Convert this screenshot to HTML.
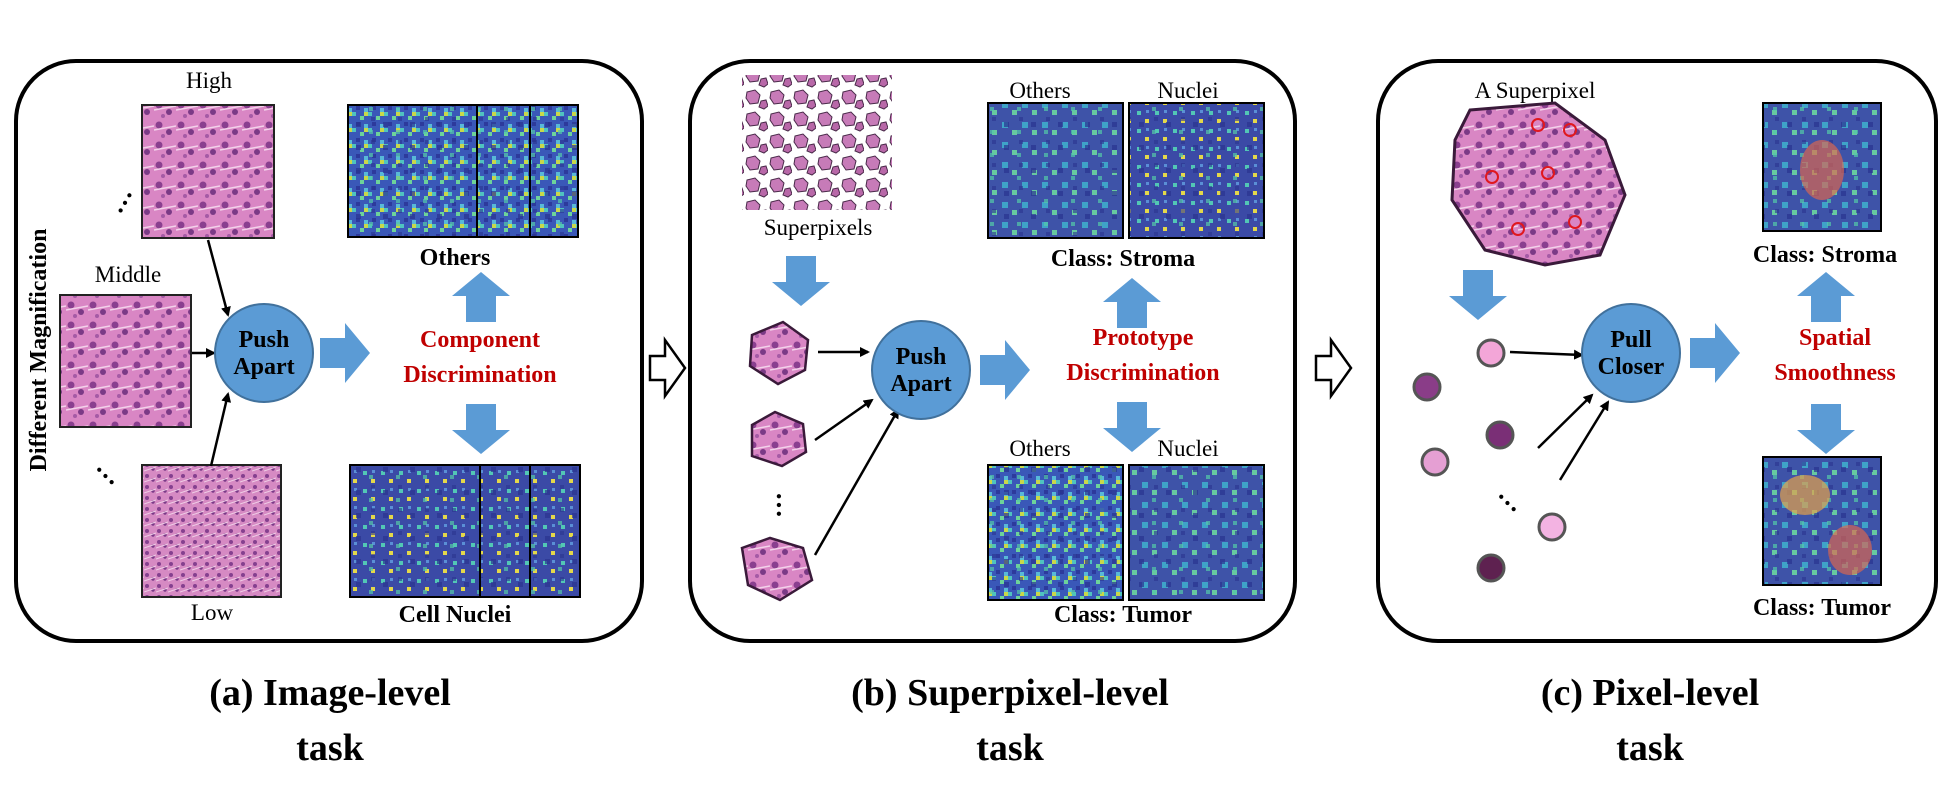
<!DOCTYPE html>
<html><head><meta charset="utf-8"><style>
html,body{margin:0;padding:0;background:#fff;}
svg{display:block;}
text{font-family:"Liberation Serif",serif;}
</style></head><body>
<svg width="1956" height="797" viewBox="0 0 1956 797" xmlns="http://www.w3.org/2000/svg">
<defs>
 <pattern id="histo" width="22" height="20" patternUnits="userSpaceOnUse">
  <rect width="22" height="20" fill="#d986c4"/>
  <circle cx="5" cy="5" r="3.5" fill="#8a3f8f"/>
  <circle cx="15" cy="12" r="3" fill="#7b3a86"/>
  <circle cx="9" cy="16" r="2" fill="#a55aa5"/>
  <path d="M0 10 L22 6" stroke="#f3d2ea" stroke-width="1.5"/>
 </pattern>
 <pattern id="histoS" width="12" height="11" patternUnits="userSpaceOnUse">
  <rect width="12" height="11" fill="#d68ac3"/>
  <circle cx="3" cy="3" r="2" fill="#85408f"/>
  <circle cx="9" cy="7" r="1.7" fill="#7a3a88"/>
  <path d="M0 9 L12 5" stroke="#efcde6" stroke-width="1"/>
 </pattern>
 <pattern id="spgrid" width="24" height="22" patternUnits="userSpaceOnUse">
  <rect width="24" height="22" fill="#fff"/>
  <polygon points="3,4 11,2 16,7 14,15 6,16 2,10" fill="#c77bb8" stroke="#4a2a4a" stroke-width="1"/>
  <polygon points="17,13 22,12 24,18 20,21 15,19" fill="#b868a8" stroke="#4a2a4a" stroke-width="1"/>
 </pattern>
 <pattern id="heat1" width="16" height="16" patternUnits="userSpaceOnUse">
  <rect width="16" height="16" fill="#3a58b8"/>
  <rect x="0" y="0" width="4" height="4" fill="#4fc3c0"/>
  <rect x="8" y="4" width="4" height="4" fill="#6dd39a"/>
  <rect x="4" y="10" width="4" height="4" fill="#2d3a9c"/>
  <rect x="12" y="12" width="4" height="4" fill="#58b9d8"/>
  <rect x="12" y="0" width="4" height="4" fill="#c9d84a"/>
 </pattern>
 <pattern id="heat2" width="18" height="18" patternUnits="userSpaceOnUse">
  <rect width="18" height="18" fill="#3b4aa6"/>
  <rect x="3" y="3" width="4" height="4" fill="#52c7b5"/>
  <rect x="11" y="11" width="4" height="4" fill="#e4d84a"/>
  <rect x="12" y="2" width="3" height="3" fill="#5a8fd6"/>
 </pattern>
 <pattern id="heat3" width="20" height="20" patternUnits="userSpaceOnUse">
  <rect width="20" height="20" fill="#3e53a8"/>
  <rect x="2" y="2" width="6" height="6" fill="#3fa3c8"/>
  <rect x="12" y="10" width="5" height="5" fill="#67c9a0"/>
 </pattern>
 <pattern id="noise" width="27" height="23" patternUnits="userSpaceOnUse">
  <rect x="5" y="7" width="5" height="5" fill="#2a3490" opacity="0.7"/>
  <rect x="18" y="15" width="4" height="4" fill="#54c9a8" opacity="0.7"/>
  <rect x="20" y="2" width="4" height="4" fill="#2a3490" opacity="0.6"/>
 </pattern>
 <marker id="ah" markerWidth="10" markerHeight="10" refX="8" refY="5" orient="auto" markerUnits="userSpaceOnUse">
  <path d="M0 0 L10 5 L0 10 Z" fill="#000"/>
 </marker>
</defs>

<!-- Panel A -->
<g>
 <rect x="16" y="61" width="626" height="580" rx="60" fill="none" stroke="#000" stroke-width="4"/>
 <text x="209" y="88" font-size="23" text-anchor="middle">High</text>
 <rect x="142" y="105" width="132" height="133" fill="url(#histo)" stroke="#222" stroke-width="2"/>
 <text x="128" y="282" font-size="23" text-anchor="middle">Middle</text>
 <rect x="60" y="295" width="131" height="132" fill="url(#histo)" stroke="#222" stroke-width="2"/>
 <rect x="142" y="465" width="139" height="132" fill="url(#histoS)" stroke="#222" stroke-width="2"/>
 <text x="212" y="620" font-size="23" text-anchor="middle">Low</text>
 <text x="120" y="215" font-size="26" font-weight="bold" transform="rotate(-60 120 215)">…</text>
 <text x="95" y="468" font-size="26" font-weight="bold" transform="rotate(45 95 468)">…</text>
 <text x="0" y="0" font-size="24" font-weight="bold" text-anchor="middle" transform="translate(46 350) rotate(-90)">Different Magnification</text>
 <line x1="208" y1="240" x2="228" y2="315" stroke="#000" stroke-width="2.5" marker-end="url(#ah)"/>
 <line x1="192" y1="353" x2="214" y2="353" stroke="#000" stroke-width="2.5" marker-end="url(#ah)"/>
 <line x1="211" y1="466" x2="228" y2="394" stroke="#000" stroke-width="2.5" marker-end="url(#ah)"/>
 <circle cx="264" cy="353" r="49" fill="#5b9bd5" stroke="#41719c" stroke-width="2"/>
 <text x="264" y="347" font-size="24" font-weight="bold" text-anchor="middle">Push</text>
 <text x="264" y="374" font-size="24" font-weight="bold" text-anchor="middle">Apart</text>
 <path d="M320 338 H345 V323 L370 353 L345 383 V368 H320 Z" fill="#5b9bd5"/>
 <g>
  <rect x="348" y="105" width="230" height="132" fill="url(#heat1)"/>
  <rect x="348" y="105" width="230" height="132" fill="url(#noise)"/>
  <rect x="348" y="105" width="230" height="132" fill="none" stroke="#000" stroke-width="2"/>
  <line x1="477" y1="105" x2="477" y2="237" stroke="#000" stroke-width="2"/>
  <line x1="530" y1="105" x2="530" y2="237" stroke="#000" stroke-width="2"/>
 </g>
 <text x="455" y="265" font-size="24" font-weight="bold" text-anchor="middle">Others</text>
 <path d="M466 322 V296 H452 L481 272 L510 296 H496 V322 Z" fill="#5b9bd5"/>
 <text x="480" y="347" font-size="24" font-weight="bold" fill="#c00000" text-anchor="middle">Component</text>
 <text x="480" y="382" font-size="24" font-weight="bold" fill="#c00000" text-anchor="middle">Discrimination</text>
 <path d="M466 404 V430 H452 L481 454 L510 430 H496 V404 Z" fill="#5b9bd5"/>
 <g>
  <rect x="350" y="465" width="230" height="132" fill="url(#heat2)"/>
  <rect x="350" y="465" width="230" height="132" fill="url(#noise)"/>
  <rect x="350" y="465" width="230" height="132" fill="none" stroke="#000" stroke-width="2"/>
  <line x1="480" y1="465" x2="480" y2="597" stroke="#000" stroke-width="2"/>
  <line x1="530" y1="465" x2="530" y2="597" stroke="#000" stroke-width="2"/>
 </g>
 <text x="455" y="622" font-size="24" font-weight="bold" text-anchor="middle">Cell Nuclei</text>
</g>

<!-- hollow arrows -->
<path d="M650 356 H665 V340 L685 368 L665 396 V380 H650 Z" fill="#fff" stroke="#000" stroke-width="2.5"/>
<path d="M1316 356 H1331 V340 L1351 368 L1331 396 V380 H1316 Z" fill="#fff" stroke="#000" stroke-width="2.5"/>

<!-- Panel B -->
<g>
 <rect x="690" y="61" width="605" height="580" rx="60" fill="none" stroke="#000" stroke-width="4"/>
 <rect x="742" y="75" width="150" height="135" fill="url(#spgrid)"/>
 <text x="818" y="235" font-size="23" text-anchor="middle">Superpixels</text>
 <path d="M786 256 V282 H772 L801 306 L830 282 H816 V256 Z" fill="#5b9bd5"/>
 <polygon points="752,335 783,322 808,340 805,370 778,384 750,366" fill="url(#histo)" stroke="#3a1a3a" stroke-width="2.5"/>
 <polygon points="752,425 775,412 803,424 806,452 782,466 752,456" fill="url(#histo)" stroke="#3a1a3a" stroke-width="2.5"/>
 <polygon points="742,548 770,538 803,548 812,580 780,600 748,585" fill="url(#histo)" stroke="#3a1a3a" stroke-width="2.5"/>
 <text x="782" y="510" font-size="26" font-weight="bold" text-anchor="middle" transform="rotate(90 782 505)">…</text>
 <line x1="818" y1="352" x2="868" y2="352" stroke="#000" stroke-width="2.5" marker-end="url(#ah)"/>
 <line x1="815" y1="440" x2="872" y2="400" stroke="#000" stroke-width="2.5" marker-end="url(#ah)"/>
 <line x1="815" y1="555" x2="898" y2="410" stroke="#000" stroke-width="2.5" marker-end="url(#ah)"/>
 <circle cx="921" cy="370" r="49" fill="#5b9bd5" stroke="#41719c" stroke-width="2"/>
 <text x="921" y="364" font-size="24" font-weight="bold" text-anchor="middle">Push</text>
 <text x="921" y="391" font-size="24" font-weight="bold" text-anchor="middle">Apart</text>
 <path d="M980 355 H1005 V340 L1030 370 L1005 400 V385 H980 Z" fill="#5b9bd5"/>
 <text x="1040" y="98" font-size="23" text-anchor="middle">Others</text>
 <text x="1188" y="98" font-size="23" text-anchor="middle">Nuclei</text>
 <rect x="988" y="103" width="135" height="135" fill="url(#heat3)"/>
 <rect x="988" y="103" width="135" height="135" fill="url(#noise)" stroke="#000" stroke-width="2"/>
 <rect x="1129" y="103" width="135" height="135" fill="url(#heat2)"/>
 <rect x="1129" y="103" width="135" height="135" fill="url(#noise)" stroke="#000" stroke-width="2"/>
 <text x="1123" y="266" font-size="24" font-weight="bold" text-anchor="middle">Class: Stroma</text>
 <path d="M1117 328 V302 H1103 L1132 278 L1161 302 H1147 V328 Z" fill="#5b9bd5"/>
 <text x="1143" y="345" font-size="24" font-weight="bold" fill="#c00000" text-anchor="middle">Prototype</text>
 <text x="1143" y="380" font-size="24" font-weight="bold" fill="#c00000" text-anchor="middle">Discrimination</text>
 <path d="M1117 402 V428 H1103 L1132 452 L1161 428 H1147 V402 Z" fill="#5b9bd5"/>
 <text x="1040" y="456" font-size="23" text-anchor="middle">Others</text>
 <text x="1188" y="456" font-size="23" text-anchor="middle">Nuclei</text>
 <rect x="988" y="465" width="135" height="135" fill="url(#heat1)"/>
 <rect x="988" y="465" width="135" height="135" fill="url(#noise)" stroke="#000" stroke-width="2"/>
 <rect x="1129" y="465" width="135" height="135" fill="url(#heat3)"/>
 <rect x="1129" y="465" width="135" height="135" fill="url(#noise)" stroke="#000" stroke-width="2"/>
 <text x="1123" y="622" font-size="24" font-weight="bold" text-anchor="middle">Class: Tumor</text>
</g>

<!-- Panel C -->
<g>
 <rect x="1378" y="61" width="558" height="580" rx="60" fill="none" stroke="#000" stroke-width="4"/>
 <text x="1535" y="98" font-size="23" text-anchor="middle">A Superpixel</text>
 <polygon points="1470,110 1555,103 1605,140 1625,195 1600,255 1545,265 1485,250 1452,200 1455,140" fill="url(#histo)" stroke="#3a1a3a" stroke-width="3"/>
 <g fill="none" stroke="#e0181e" stroke-width="2">
  <circle cx="1538" cy="125" r="6"/><circle cx="1570" cy="130" r="6"/><circle cx="1548" cy="173" r="6"/>
  <circle cx="1492" cy="177" r="6"/><circle cx="1518" cy="229" r="6"/><circle cx="1575" cy="222" r="6"/>
 </g>
 <path d="M1463 270 V296 H1449 L1478 320 L1507 296 H1493 V270 Z" fill="#5b9bd5"/>
 <circle cx="1491" cy="353" r="13" fill="#f3a6d8" stroke="#555" stroke-width="3"/>
 <circle cx="1427" cy="387" r="13" fill="#8a3d88" stroke="#555" stroke-width="3"/>
 <circle cx="1500" cy="435" r="13" fill="#7a2f76" stroke="#555" stroke-width="3"/>
 <circle cx="1435" cy="462" r="13" fill="#e59fd3" stroke="#555" stroke-width="3"/>
 <circle cx="1552" cy="527" r="13" fill="#f3b3e2" stroke="#555" stroke-width="3"/>
 <circle cx="1491" cy="568" r="13" fill="#5e2150" stroke="#555" stroke-width="3"/>
 <text x="1497" y="495" font-size="26" font-weight="bold" transform="rotate(45 1497 495)">…</text>
 <line x1="1510" y1="352" x2="1582" y2="355" stroke="#000" stroke-width="2.5" marker-end="url(#ah)"/>
 <line x1="1538" y1="448" x2="1592" y2="395" stroke="#000" stroke-width="2.5" marker-end="url(#ah)"/>
 <line x1="1560" y1="480" x2="1608" y2="402" stroke="#000" stroke-width="2.5" marker-end="url(#ah)"/>
 <circle cx="1631" cy="353" r="49" fill="#5b9bd5" stroke="#41719c" stroke-width="2"/>
 <text x="1631" y="347" font-size="24" font-weight="bold" text-anchor="middle">Pull</text>
 <text x="1631" y="374" font-size="24" font-weight="bold" text-anchor="middle">Closer</text>
 <path d="M1690 338 H1715 V323 L1740 353 L1715 383 V368 H1690 Z" fill="#5b9bd5"/>
 <rect x="1763" y="103" width="118" height="128" fill="url(#heat3)"/>
 <rect x="1763" y="103" width="118" height="128" fill="url(#noise)" stroke="#000" stroke-width="2"/>
 <ellipse cx="1822" cy="170" rx="22" ry="30" fill="#e4674a" opacity="0.65"/>
 <text x="1825" y="262" font-size="24" font-weight="bold" text-anchor="middle">Class: Stroma</text>
 <path d="M1811 322 V296 H1797 L1826 272 L1855 296 H1841 V322 Z" fill="#5b9bd5"/>
 <text x="1835" y="345" font-size="24" font-weight="bold" fill="#c00000" text-anchor="middle">Spatial</text>
 <text x="1835" y="380" font-size="24" font-weight="bold" fill="#c00000" text-anchor="middle">Smoothness</text>
 <path d="M1811 404 V430 H1797 L1826 454 L1855 430 H1841 V404 Z" fill="#5b9bd5"/>
 <rect x="1763" y="457" width="118" height="128" fill="url(#heat3)"/>
 <rect x="1763" y="457" width="118" height="128" fill="url(#noise)" stroke="#000" stroke-width="2"/>
 <ellipse cx="1805" cy="495" rx="25" ry="20" fill="#e4a34a" opacity="0.7"/>
 <ellipse cx="1850" cy="550" rx="22" ry="25" fill="#e4674a" opacity="0.65"/>
 <text x="1822" y="615" font-size="24" font-weight="bold" text-anchor="middle">Class: Tumor</text>
</g>

<!-- captions -->
<text x="330" y="705" font-size="38" font-weight="bold" text-anchor="middle">(a) Image-level</text>
<text x="330" y="760" font-size="38" font-weight="bold" text-anchor="middle">task</text>
<text x="1010" y="705" font-size="38" font-weight="bold" text-anchor="middle">(b) Superpixel-level</text>
<text x="1010" y="760" font-size="38" font-weight="bold" text-anchor="middle">task</text>
<text x="1650" y="705" font-size="38" font-weight="bold" text-anchor="middle">(c) Pixel-level</text>
<text x="1650" y="760" font-size="38" font-weight="bold" text-anchor="middle">task</text>
</svg>
</body></html>
